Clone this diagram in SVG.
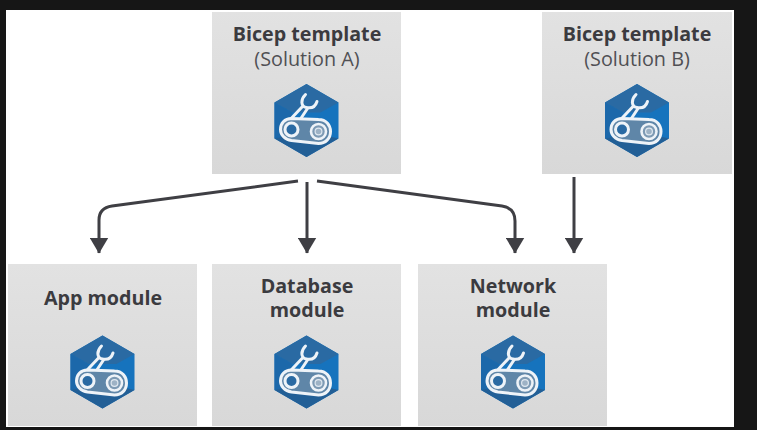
<svg xmlns="http://www.w3.org/2000/svg" width="757" height="430" viewBox="0 0 757 430">
<style>
.box{fill:url(#boxfill)}
.t{font-family:"Open Sans","Noto Sans","Liberation Sans",sans-serif;text-anchor:middle;fill:#3b3b3f}
.b{font-weight:700;font-size:19.7px}
.s{fill:#505054;font-size:19.8px}
.c{fill:none;stroke:#3f3f44;stroke-width:3}
.w{fill:none;stroke:#eef3f8;stroke-width:3;stroke-linejoin:round;stroke-linecap:round}
</style>
<defs>
<linearGradient id="boxfill" x1="0" y1="0" x2="0" y2="1"><stop offset="0" stop-color="#e2e2e2"/><stop offset="1" stop-color="#d8d8d8"/></linearGradient>
<filter id="soft" x="-5%" y="-5%" width="110%" height="110%"><feGaussianBlur stdDeviation="0.45"/></filter>
<marker id="arrow" markerUnits="userSpaceOnUse" markerWidth="17" markerHeight="19" refX="15.500" refY="9.500" orient="auto" viewBox="0 0 17 19"><path d="M0 0L16 9.500L0 19Z" fill="#3f3f44"/></marker>
<g id="icon" filter="url(#soft)">
<path d="M0-36.500L32-18V18L0 36.500L-32 18V-18Z" fill="#1673bd"/>
<path d="M0-36.500L32-18L14-8H-14L-32-18Z" fill="#2a6ba3"/>
<path d="M-32-18L-14-8V14L-32 18Z" fill="#1b68aa"/>
<path d="M-32 18L0 36.500L32 18L14 14H-14Z" fill="#235f96"/>
<path class="w" d="M-1-26C-6-21-6-14 0-13C5-12 9-14 10.500-19"/>
<path class="w" d="M-21 4L-4-14M-9 3L1-12"/>
<path d="M-15-2L12-1C20-1 24 5 24 11C24 18 19 23 12 23L-15 20C-22 19-26 14-26 9C-26 3-22-2-15-2Z" fill="#5f86a8" stroke="#eef3f8" stroke-width="3"/>
<circle cx="-15" cy="9" r="6.500" fill="#2a6ba3" stroke="#eef3f8" stroke-width="3"/>
<circle cx="12" cy="11" r="7.500" fill="#7d9ab4" stroke="#eef3f8" stroke-width="2.600"/>
<circle cx="12" cy="11" r="3.400" fill="#9db2c5" stroke="#dfe8f0" stroke-width="1.200"/>
</g>
</defs>
<rect width="757" height="430" fill="#161616"/>
<rect x="6" y="10" width="728" height="417" fill="#ffffff"/>
<g id="connectors">
<path class="c" marker-end="url(#arrow)" d="M298 181L112 206Q99 208 99 220V253"/>
<path class="c" marker-end="url(#arrow)" d="M307 182V253"/>
<path class="c" marker-end="url(#arrow)" d="M317 181L502 206Q515 208 515 221V253"/>
<path class="c" marker-end="url(#arrow)" d="M574 177V253"/>
</g>
<g id="bicep-a"><rect class="box" x="212" y="12" width="189" height="162"/><text class="t b" x="307" y="41">Bicep template</text><text class="t s" x="307" y="66">(Solution A)</text><use href="#icon" x="306.500" y="120.500"/></g>
<g id="bicep-b"><rect class="box" x="542" y="12" width="190" height="162"/><text class="t b" x="637" y="41">Bicep template</text><text class="t s" x="637" y="66">(Solution B)</text><use href="#icon" x="637" y="120.500"/></g>
<g id="app-module"><rect class="box" x="8" y="264" width="189" height="162"/><text class="t b" x="103" y="305">App module</text><use href="#icon" x="102.500" y="372"/></g>
<g id="database-module"><rect class="box" x="212" y="264" width="189" height="162"/><text class="t b"><tspan x="307" y="293">Database</tspan><tspan x="307" y="317">module</tspan></text><use href="#icon" x="306.500" y="372"/></g>
<g id="network-module"><rect class="box" x="418" y="264" width="189" height="162"/><text class="t b"><tspan x="513" y="293">Network</tspan><tspan x="513" y="317">module</tspan></text><use href="#icon" x="513" y="372"/></g>
</svg>
